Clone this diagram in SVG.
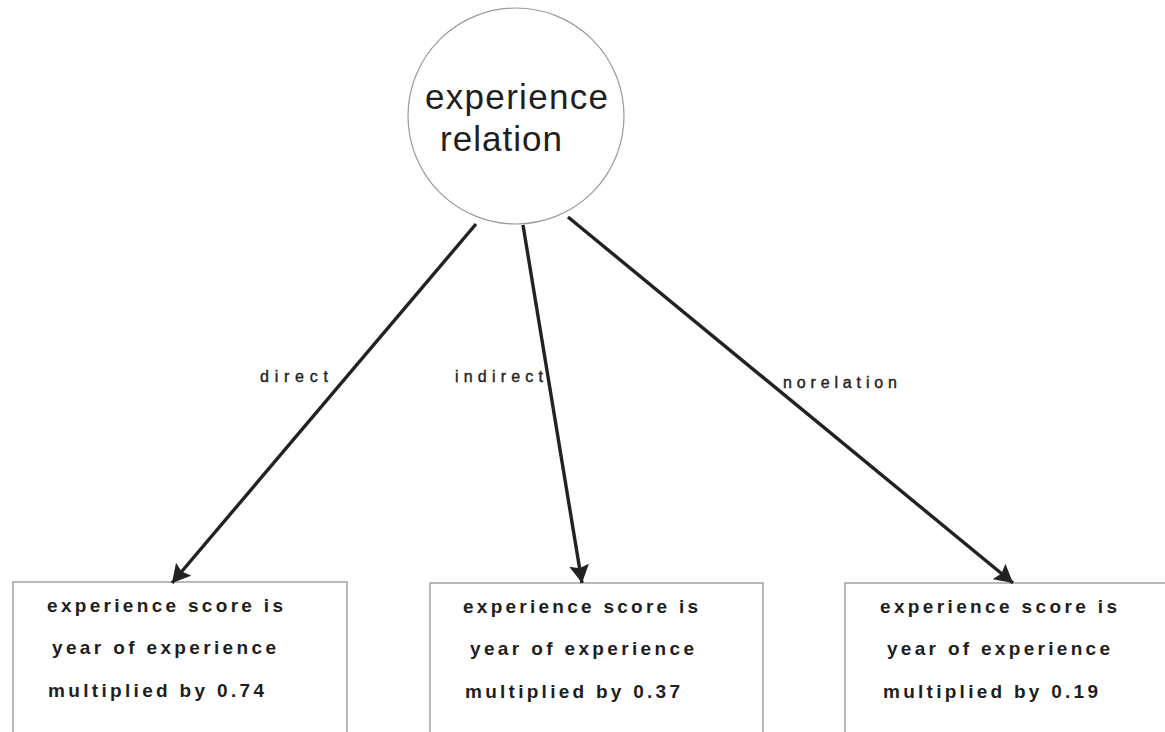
<svg xmlns="http://www.w3.org/2000/svg" width="1165" height="732" viewBox="0 0 1165 732">
  <defs>
    <marker id="arrow" markerUnits="userSpaceOnUse" markerWidth="20" markerHeight="20" refX="18" refY="10" orient="auto">
      <path d="M0,0 L18,10 L0,20 L3,10 Z" fill="#222"/>
    </marker>
    <style>
      .node-circle { fill: #fff; stroke: #9a9a9a; stroke-width: 1.2; }
      .node-box { fill: #fff; stroke: #8c8c8c; stroke-width: 1.2; }
      .title { font-family: "Liberation Sans", Arial, sans-serif; font-size: 35px; fill: #1e1e1e; }
      .body { font-family: "Liberation Sans", Arial, sans-serif; font-size: 19px; font-weight: bold; fill: #1e1e1e; }
      .edge { stroke: #222; stroke-width: 3.4; fill: none; marker-end: url(#arrow); }
      .edge-label { font-family: "Liberation Sans", Arial, sans-serif; font-size: 16px; fill: #1e1e1e; stroke: #1e1e1e; stroke-width: 0.4; }
    </style>
  </defs>
  <rect width="1165" height="732" fill="#fff"/>

  <!-- decision node -->
  <g id="experience-relation">
    <circle class="node-circle" cx="516" cy="116" r="108"/>
    <text class="title" x="425" y="109" textLength="183" lengthAdjust="spacing">experience</text>
    <text class="title" x="440" y="151" textLength="122" lengthAdjust="spacing">relation</text>
  </g>

  <!-- outcome nodes -->
  <g id="direct-score">
    <rect class="node-box" x="13" y="582" width="334" height="160"/>
    <text class="body" x="47" y="612" textLength="236" lengthAdjust="spacing">experience score is</text>
    <text class="body" x="52" y="654" textLength="224" lengthAdjust="spacing">year of experience</text>
    <text class="body" x="48" y="697" textLength="216" lengthAdjust="spacing">multiplied by 0.74</text>
  </g>
  <g id="indirect-score">
    <rect class="node-box" x="430" y="583" width="333" height="160"/>
    <text class="body" x="463" y="613" textLength="235" lengthAdjust="spacing">experience score is</text>
    <text class="body" x="470" y="655" textLength="224" lengthAdjust="spacing">year of experience</text>
    <text class="body" x="465" y="698" textLength="215" lengthAdjust="spacing">multiplied by 0.37</text>
  </g>
  <g id="norelation-score">
    <rect class="node-box" x="845" y="583" width="340" height="160"/>
    <text class="body" x="880" y="613" textLength="237" lengthAdjust="spacing">experience score is</text>
    <text class="body" x="887" y="655" textLength="223" lengthAdjust="spacing">year of experience</text>
    <text class="body" x="883" y="698" textLength="215" lengthAdjust="spacing">multiplied by 0.19</text>
  </g>

  <!-- connectors -->
  <g id="connectors">
    <line class="edge" x1="476" y1="224" x2="172" y2="583"/>
    <line class="edge" x1="523" y1="225" x2="582" y2="583"/>
    <line class="edge" x1="568" y1="217" x2="1013" y2="583"/>
    <text class="edge-label" x="260" y="382" textLength="68" lengthAdjust="spacing">direct</text>
    <text class="edge-label" x="455" y="382" textLength="88" lengthAdjust="spacing">indirect</text>
    <text class="edge-label" x="783" y="388" textLength="114" lengthAdjust="spacing">norelation</text>
  </g>
</svg>
